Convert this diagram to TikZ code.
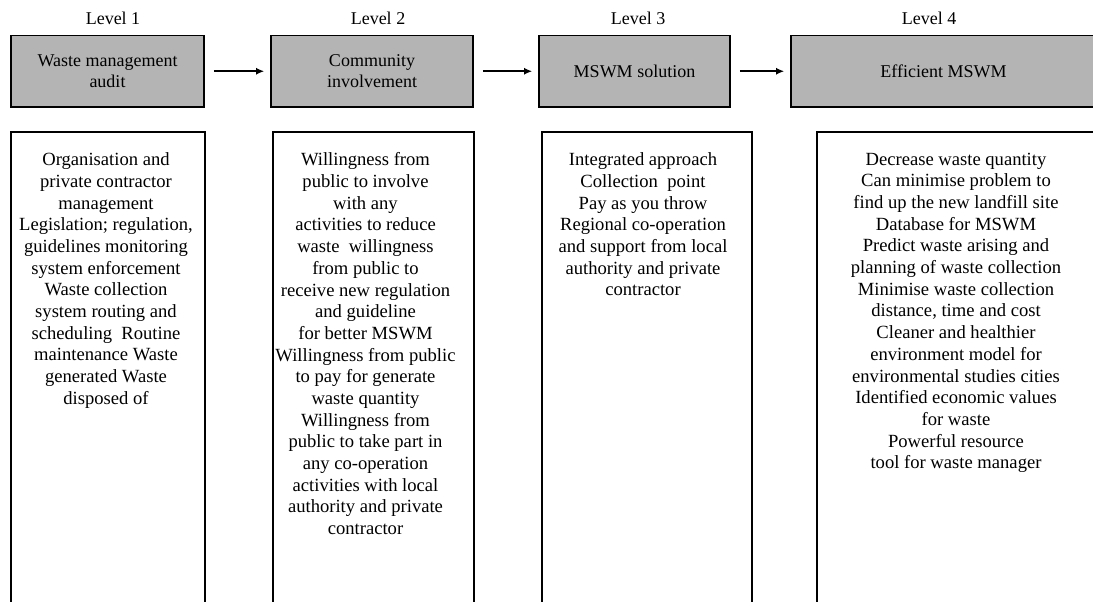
\documentclass[tikz,border=0pt]{standalone}
\usepackage{fontspec}
\setmainfont{Liberation Serif}
\usetikzlibrary{arrows.meta}
\definecolor{boxgray}{RGB}{180,180,180}
\begin{document}
\begin{tikzpicture}[x=1pt,y=-1pt,
  headbox/.style={draw=black, line width=1.7pt, fill=boxgray, inner sep=0pt,
    minimum height=71.5pt, align=center, font=\fontsize{18}{21}\selectfont},
  listbox/.style={draw=black, line width=1.7pt, inner sep=0pt, minimum height=483pt},
  listtext/.style={anchor=north, inner sep=0pt, align=center,
    font=\fontsize{18.6}{21.7}\selectfont},
  levellabel/.style={anchor=base, inner sep=0pt, font=\fontsize{18}{21}\selectfont},
  flowarrow/.style={line width=1.5pt, -{Latex[length=8pt,width=7pt]},
    shorten <=9pt, shorten >=6pt}
]
\useasboundingbox (0,0) rectangle (1093,602);

% level labels
\node[levellabel] (l1) at (113,25) {Level 1};
\node[levellabel] (l2) at (378,25) {Level 2};
\node[levellabel] (l3) at (638,25) {Level 3};
\node[levellabel] (l4) at (929,25) {Level 4};

% header boxes
\node[headbox, minimum width=193pt] (h1) at (107.5,71.25) {Waste management\\audit};
\node[headbox, minimum width=202pt] (h2) at (372,71.25) {Community\\involvement};
\node[headbox, minimum width=191pt] (h3) at (634.5,71.25) {MSWM solution};
\node[headbox, minimum width=305pt] (h4) at (943.5,71.25) {Efficient MSWM};

% arrows
\draw[flowarrow] (h1) -- (h2);
\draw[flowarrow] (h2) -- (h3);
\draw[flowarrow] (h3) -- (h4);

% list boxes (open at the bottom edge of the picture)
\node[listbox, minimum width=194pt] (b1) at (108,373.5) {};
\node[listbox, minimum width=201pt] (b2) at (373.5,373.5) {};
\node[listbox, minimum width=210pt] (b3) at (647,373.5) {};
\node[listbox, minimum width=279pt] (b4) at (956.5,373.5) {};

% list texts
\node[listtext] (t1) at (106,152.5) {Organisation and\\private contractor\\management\\Legislation; regulation,\\guidelines monitoring\\system enforcement\\Waste collection\\system routing and\\scheduling~ Routine\\maintenance Waste\\generated Waste\\disposed of};
\node[listtext] (t2) at (365.5,152.5) {Willingness from\\public to involve\\with any\\activities to reduce\\waste~ willingness\\from public to\\receive new regulation\\and guideline\\for better MSWM\\Willingness from public\\to pay for generate\\waste quantity\\Willingness from\\public to take part in\\any co-operation\\activities with local\\authority and private\\contractor};
\node[listtext] (t3) at (643,152.5) {Integrated approach\\Collection~ point\\Pay as you throw\\Regional co-operation\\and support from local\\authority and private\\contractor};
\node[listtext] (t4) at (956,152.5) {Decrease waste quantity\\Can minimise problem to\\find up the new landfill site\\Database for MSWM\\Predict waste arising and\\planning of waste collection\\Minimise waste collection\\distance, time and cost\\Cleaner and healthier\\environment model for\\environmental studies cities\\Identified economic values\\for waste\\Powerful resource\\tool for waste manager};
\end{tikzpicture}
\end{document}
